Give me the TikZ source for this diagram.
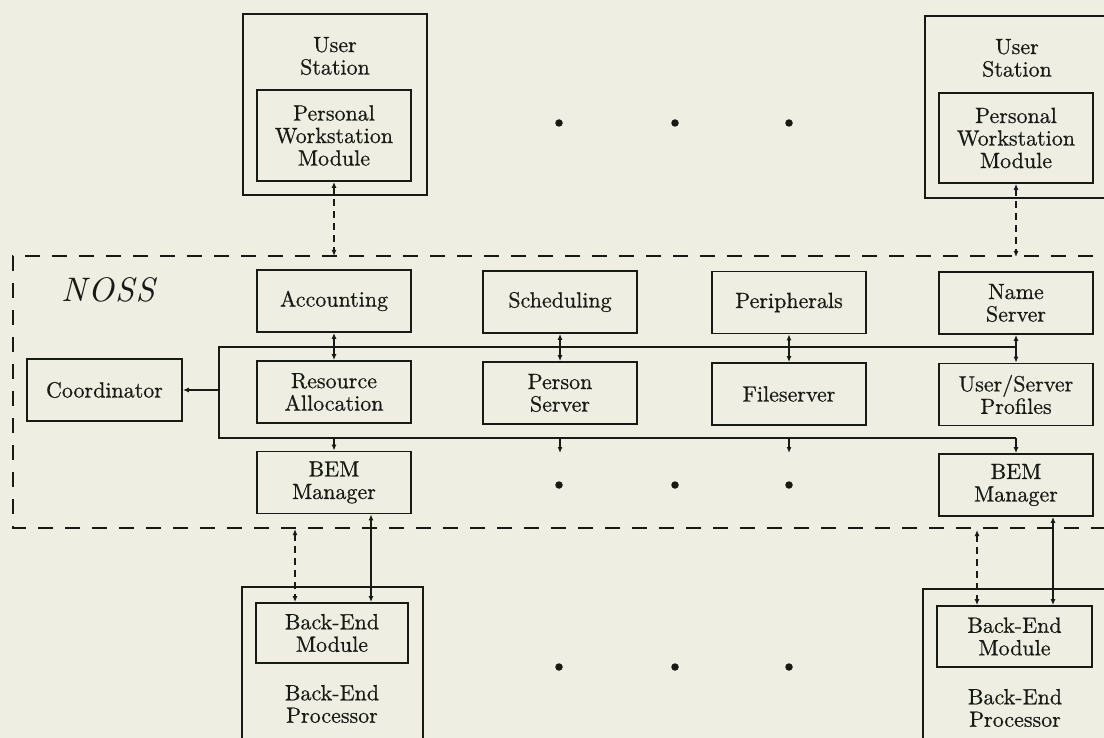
\documentclass[tikz,border=0pt]{standalone}
\usepackage{fontspec}
\usetikzlibrary{arrows.meta}
% the 10pt design size of Latin Modern, scaled up, for the labels
\newfontfamily\boxfont{lmroman10-regular.otf}[FakeBold=0.6]
\newfontfamily\nossfont{lmroman10-italic.otf}[LetterSpace=4]
\definecolor{paper}{RGB}{239,238,226}
\definecolor{ink}{RGB}{24,26,22}
\begin{document}
\begin{tikzpicture}[x=1pt,y=-1pt,
  every node/.style={font=\boxfont\fontsize{22}{22.5}\selectfont, text=ink},
  lbl/.style={align=center, inner sep=0pt},
  box/.style={draw=ink, line width=1.8pt, rectangle, inner sep=0pt, align=center},
  module/.style={box, minimum width=154pt, minimum height=62pt},
  frame/.style={box, minimum width=184pt, minimum height=182pt},
  wire/.style={draw=ink, line width=1.6pt},
  fwd/.style={wire, -{Latex[length=6pt,width=5pt]}},
  dbl/.style={wire, {Latex[length=6pt,width=5pt]}-{Latex[length=6pt,width=5pt]}},
  dashdbl/.style={dbl, dash pattern=on 7pt off 5pt},
  bound/.style={draw=ink, line width=1.9pt, dash pattern=on 15pt off 12pt},
  dot/.style={circle, fill=ink, inner sep=0pt, minimum size=7.5pt}
]
\useasboundingbox (0,0) rectangle (1104,738);
\fill[paper] (0,0) rectangle (1104,738);
\clip (0,0) rectangle (1104,738);

% NOSS boundary (runs off the right edge)
\draw[bound] (1120,256) -- (13,256) -- (13,528) -- (1120,528);
\node[lbl, font=\nossfont\fontsize{34}{36}\selectfont] (noss) at (108,290) {NOSS};

% user stations
\node[frame, minimum height=181pt] (usL) at (335,104.5) {};
\node[lbl] (usLlbl) at (335,56) {User\\Station};
\node[module, minimum height=91pt] (pwmL) at (334,135.5) {Personal\\Workstation\\Module};

\node[frame] (usR) at (1017,107) {};
\node[lbl] (usRlbl) at (1017,58) {User\\Station};
\node[module, minimum height=90pt] (pwmR) at (1016,138) {Personal\\Workstation\\Module};

% NOSS services, first row
\node[module] (acc) at (334,301) {Accounting};
\node[module] (sch) at (560,302) {Scheduling};
\node[module] (per) at (789,302.5) {Peripherals};
\node[module] (ns)  at (1016,303) {Name\\Server};

% second row
\node[module, minimum width=155pt] (coord) at (104.5,390) {Coordinator};
\node[module] (ra)  at (334,392) {Resource\\Allocation};
\node[module] (ps)  at (560,393) {Person\\Server};
\node[module] (fs)  at (789,394) {Fileserver};
\node[module] (usp) at (1016,394.5) {User/Server\\Profiles};

% BEM managers
\node[module] (bemL) at (334,482.5) {BEM\\Manager};
\node[module] (bemR) at (1016,485) {BEM\\Manager};

% back-end processors
\node[box, minimum width=181pt, minimum height=175pt] (bepL) at (332.5,674.5) {};
\node[module, minimum width=152pt, minimum height=60pt] (bemodL) at (332,633) {Back-End\\Module};
\node[lbl] (bepLlbl) at (332,704) {Back-End\\Processor};

\node[box, minimum width=184pt, minimum height=175pt] (bepR) at (1015,676.5) {};
\node[module, minimum width=155pt, minimum height=61pt] (bemodR) at (1014.5,636.5) {Back-End\\Module};
\node[lbl] (bepRlbl) at (1015,708) {Back-End\\Processor};

% ellipsis dots
\foreach \r/\y in {1/123, 2/485, 3/667}{
  \node[dot] (d\r a) at (559,\y) {};
  \node[dot] (d\r b) at (675,\y) {};
  \node[dot] (d\r c) at (789,\y) {};
}

% buses
\coordinate (busAw) at (219,347);
\coordinate (busAe) at (1016,347);
\coordinate (busBw) at (219,438);
\coordinate (busBe) at (1016,438);
\draw[wire] (busAe) -- (busAw) -- (busBw) -- (busBe);
\draw[fwd] (busAw |- coord.east) -- (coord.east);

\draw[dbl] (acc.south) -- (ra.north);
\draw[dbl] (sch.south) -- (ps.north);
\draw[dbl] (per.south) -- (fs.north);
\draw[dbl] (ns.south) -- (usp.north);

\coordinate (tailS) at (560,453);
\coordinate (tailF) at (789,453);
\draw[fwd] (busBw -| bemL.north) -- (bemL.north);
\draw[fwd] (busBw -| tailS) -- (tailS);
\draw[fwd] (busBw -| tailF) -- (tailF);
\draw[fwd] (busBe) -- (bemR.north);

% user station links
\coordinate (nossTopL) at (334,256);
\coordinate (nossTopR) at (1016,257);
\draw[dashdbl] (pwmL.south) -- (nossTopL);
\draw[dashdbl] (pwmR.south) -- (nossTopR);

% back-end links
\coordinate (nossBotL) at (295,529);
\coordinate (linkL) at (371,0);
\draw[dashdbl] (nossBotL) -- (nossBotL |- bemodL.north);
\draw[dbl] (bemL.south -| linkL) -- (bemodL.north -| linkL);

\coordinate (nossBotR) at (977,530);
\coordinate (linkR) at (1053,0);
\draw[dashdbl] (nossBotR) -- (nossBotR |- bemodR.north);
\draw[dbl] (bemR.south -| linkR) -- (bemodR.north -| linkR);
\end{tikzpicture}
\end{document}
